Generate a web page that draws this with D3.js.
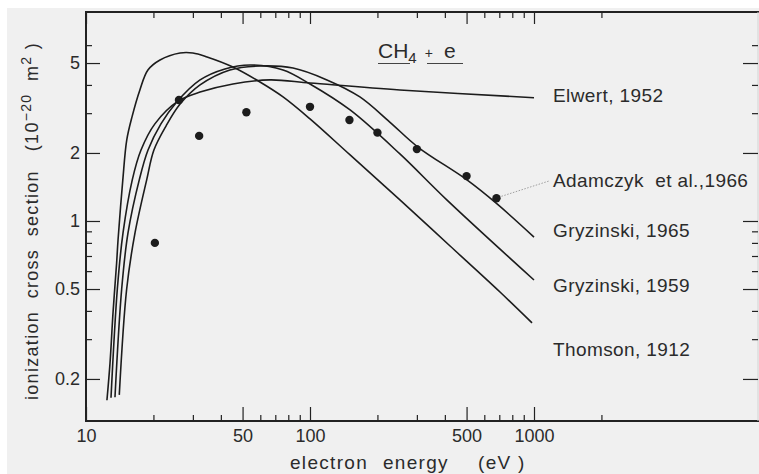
<!DOCTYPE html>
<html><head><meta charset="utf-8">
<script src="https://cdn.jsdelivr.net/npm/d3@7"></script>
<style>
html,body{margin:0;padding:0;background:#fff;}
svg{display:block;}
text{font-family:"Liberation Sans",Arial,sans-serif;fill:#2b2b2b;}
</style></head>
<body>
<script>
// ---- data ----
const xMajorTicks = [10, 50, 100, 500, 1000];
const xMinorTicks = [20, 30, 40, 60, 70, 80, 90, 200, 300, 400, 600, 700, 800, 900, 2000];
const yMajorTicks = [0.2, 0.5, 1, 2, 5];
const yMinorTicks = [0.3, 0.4, 0.6, 0.7, 0.8, 0.9, 3, 4, 6];

const thomson1912 = [[12.4,0.161],[12.8,0.235],[13.2,0.392],[13.7,0.652],[13.9,0.824],[14.6,1.52],[15.2,2.28],[16.05,2.89],[17.4,3.80],[18.9,4.66],[21.4,5.16],[26.3,5.54],[30,5.54],[34.7,5.32],[45.3,4.80],[59.8,4.12],[75.8,3.54],[100,2.83],[151,1.96],[252,1.24],[422,0.775],[705,0.485],[980,0.354]];
const elwert1952 = [[12.93,0.165],[13.8,0.5],[14.63,0.885],[16.09,1.52],[17.6,2.06],[20.3,2.69],[25.75,3.39],[32.3,3.72],[45.3,4.04],[66.3,4.21],[100,4.08],[252,3.80],[1000,3.51]];
const gryzinski1959 = [[13.47,0.166],[14.43,0.5],[15.4,0.885],[17.29,1.52],[18.92,2.06],[21.6,2.69],[25.2,3.33],[32.3,4.21],[41.7,4.71],[54,4.90],[75.8,4.66],[100,4.04],[151,3.10],[252,1.98],[408,1.24],[1000,0.548]];
const gryzinski1965 = [[14.08,0.170],[15.19,0.5],[16.55,0.885],[18.66,1.52],[20.1,2.06],[22.76,2.63],[26.3,3.29],[32.3,4.0],[43.9,4.66],[59.8,4.85],[84,4.75],[119,4.21],[167,3.54],[227,2.74],[303,2.125],[502,1.52],[684,1.19],[1000,0.849]];
const adamczyk1966 = [[20.3,0.80],[26,3.43],[32,2.38],[52,3.03],[100,3.2],[150,2.80],[200,2.46],[300,2.08],[500,1.58],[680,1.26]];

const seriesLabels = ["Elwert, 1952","Adamczyk  et al.,1966","Gryzinski, 1965","Gryzinski, 1959","Thomson, 1912"];
const seriesLabelBaselines = [3.36, 1.414, 0.849, 0.485, 0.2527]; // data units (y) of label baselines

// ---- layout ----
const W = 759, H = 474;
const svg = d3.select("body").append("svg").attr("width", W).attr("height", H);
svg.append("rect").attr("x",7).attr("y",8).attr("width",W-7).attr("height",H-8).attr("fill","#f0f0f0");

const pLeft = 86, pRight = 758, pTop = 12, pBottom = 421;
const x = d3.scaleLog().domain([10, 10000]).range([pLeft, pRight]);
const y = d3.scaleLog().domain([0.1303, 8.41]).range([pBottom, pTop]);

const ink = "#222";

// frame
svg.append("line").attr("x1",pLeft).attr("x2",pLeft).attr("y1",pTop-1).attr("y2",pBottom+1).attr("stroke",ink).attr("stroke-width",2);
svg.append("line").attr("x1",pLeft-1).attr("x2",W).attr("y1",pBottom).attr("y2",pBottom).attr("stroke",ink).attr("stroke-width",2);
svg.append("line").attr("x1",pLeft-1).attr("x2",W).attr("y1",pTop).attr("y2",pTop).attr("stroke",ink).attr("stroke-width",2);
svg.append("line").attr("x1",pRight).attr("x2",pRight).attr("y1",pTop).attr("y2",pBottom).attr("stroke","#d4d4d4").attr("stroke-width",1);

function styleAxis(g, fs){
  g.select(".domain").remove();
  g.selectAll("line").attr("stroke", ink).attr("stroke-width", 1.2);
  g.selectAll("text").attr("font-size", fs).attr("fill","#2b2b2b").attr("font-family",'"Liberation Sans",Arial,sans-serif');
}
const fmt = d => String(d);

// bottom axis
svg.append("g").attr("transform",`translate(0,${pBottom})`)
  .call(d3.axisBottom(x).tickValues(xMajorTicks).tickSize(-14).tickPadding(8).tickFormat(fmt))
  .call(g=>styleAxis(g,18));
svg.append("g").attr("transform",`translate(0,${pBottom})`)
  .call(d3.axisBottom(x).tickValues(xMinorTicks).tickSize(-6).tickFormat(""))
  .call(g=>styleAxis(g,18));
// top axis
svg.append("g").attr("transform",`translate(0,${pTop})`)
  .call(d3.axisTop(x).tickValues(xMajorTicks).tickSize(-12).tickFormat(""))
  .call(g=>styleAxis(g,18));
svg.append("g").attr("transform",`translate(0,${pTop})`)
  .call(d3.axisTop(x).tickValues(xMinorTicks).tickSize(-6).tickFormat(""))
  .call(g=>styleAxis(g,18));
// left axis
svg.append("g").attr("transform",`translate(${pLeft},0)`)
  .call(d3.axisLeft(y).tickValues(yMajorTicks).tickSize(-14).tickPadding(6).tickFormat(fmt))
  .call(g=>styleAxis(g,18));
svg.append("g").attr("transform",`translate(${pLeft},0)`)
  .call(d3.axisLeft(y).tickValues(yMinorTicks).tickSize(-6).tickFormat(""))
  .call(g=>styleAxis(g,18));
// right axis
svg.append("g").attr("transform",`translate(${pRight},0)`)
  .call(d3.axisRight(y).tickValues(yMajorTicks).tickSize(-15).tickFormat(""))
  .call(g=>styleAxis(g,18));
svg.append("g").attr("transform",`translate(${pRight},0)`)
  .call(d3.axisRight(y).tickValues(yMinorTicks).tickSize(-6).tickFormat(""))
  .call(g=>styleAxis(g,18));

// curves
const line = d3.line().x(d=>x(d[0])).y(d=>y(d[1])).curve(d3.curveCatmullRom.alpha(0.5));
[thomson1912, elwert1952, gryzinski1959, gryzinski1965].forEach(s=>{
  svg.append("path").attr("d", line(s)).attr("fill","none").attr("stroke","#1c1c1c").attr("stroke-width",1.6);
});
// data points
svg.selectAll("circle.pt").data(adamczyk1966).join("circle")
  .attr("cx",d=>x(d[0])).attr("cy",d=>y(d[1])).attr("r",4.2).attr("fill","#1c1c1c");

// leader line for Adamczyk label
const lastPt = adamczyk1966[adamczyk1966.length-1];
svg.append("line").attr("x1",x(lastPt[0])+5).attr("y1",y(lastPt[1])-2)
  .attr("x2",549).attr("y2",y(seriesLabelBaselines[1])-6)
  .attr("stroke","#8a8a8a").attr("stroke-width",0.8).attr("stroke-dasharray","1.5,1.5");

// series labels
seriesLabels.forEach((t,i)=>{
  svg.append("text").attr("x",553).attr("y",y(seriesLabelBaselines[i]))
    .attr("font-size",19).attr("letter-spacing",0.4).attr("xml:space","preserve").text(t);
});

// title CH4 + e
const title = svg.append("text").attr("x",378).attr("y",58).attr("font-size",21);
title.append("tspan").text("CH");
title.append("tspan").attr("font-size",15).attr("dy",5).text("4");
title.append("tspan").attr("dy",-5).attr("dx",8).attr("font-size",14).text("+");
title.append("tspan").attr("dx",11).text("e");
svg.append("line").attr("x1",378).attr("x2",410).attr("y1",63.5).attr("y2",63.5).attr("stroke","#444").attr("stroke-width",1);
svg.append("line").attr("x1",427).attr("x2",463).attr("y1",63.5).attr("y2",63.5).attr("stroke","#444").attr("stroke-width",1);

// axis titles
const xt = svg.append("text").attr("y",469).attr("font-size",19).attr("letter-spacing",1.3).attr("xml:space","preserve");
xt.append("tspan").attr("x",290).text("electron");
xt.append("tspan").attr("x",383).text("energy");
xt.append("tspan").attr("x",478).text("(eV )");
const yt = svg.append("text").attr("transform","translate(38,400) rotate(-90)").attr("text-anchor","start")
  .attr("font-size",18).attr("letter-spacing",1.3).attr("xml:space","preserve");
yt.append("tspan").text("ionization  cross  section   (10");
yt.append("tspan").attr("dy",-7).attr("font-size",14).text("\u221220");
yt.append("tspan").attr("dy",7).text("  m");
yt.append("tspan").attr("dy",-7).attr("font-size",14).text("2");
yt.append("tspan").attr("dy",7).text(" )");
</script>
</body></html>
